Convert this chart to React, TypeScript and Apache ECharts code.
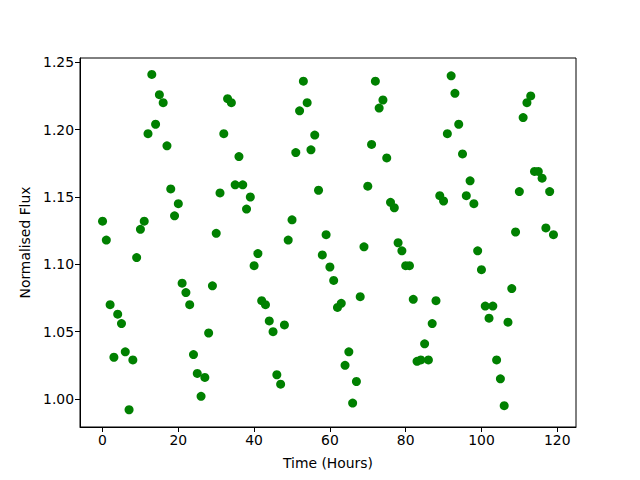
import React, { useEffect, useRef } from "react";
import * as echarts from "echarts";

const hours: number[] = Array.from({ length: 120 }, (_, i) => i);

const flux: number[] = [
  1.132, 1.118, 1.070, 1.031, 1.063, 1.056, 1.035, 0.992, 1.029, 1.105,
  1.126, 1.132, 1.197, 1.241, 1.204, 1.226, 1.220, 1.188, 1.156, 1.136,
  1.145, 1.086, 1.079, 1.070, 1.033, 1.019, 1.002, 1.016, 1.049, 1.084,
  1.123, 1.153, 1.197, 1.223, 1.220, 1.159, 1.180, 1.159, 1.141, 1.150,
  1.099, 1.108, 1.073, 1.070, 1.058, 1.050, 1.018, 1.011, 1.055, 1.118,
  1.133, 1.183, 1.214, 1.236, 1.220, 1.185, 1.196, 1.155, 1.107, 1.122,
  1.098, 1.088, 1.068, 1.071, 1.025, 1.035, 0.997, 1.013, 1.076, 1.113,
  1.158, 1.189, 1.236, 1.216, 1.222, 1.179, 1.146, 1.142, 1.116, 1.110,
  1.099, 1.099, 1.074, 1.028, 1.029, 1.041, 1.029, 1.056, 1.073, 1.151,
  1.147, 1.197, 1.240, 1.227, 1.204, 1.182, 1.151, 1.162, 1.145, 1.110,
  1.096, 1.069, 1.060, 1.069, 1.029, 1.015, 0.995, 1.057, 1.082, 1.124,
  1.154, 1.209, 1.220, 1.225, 1.169, 1.169, 1.164, 1.127, 1.154, 1.122,
];

const xTicks: number[] = [0, 20, 40, 60, 80, 100, 120];
const yTicks: number[] = [1.0, 1.05, 1.1, 1.15, 1.2, 1.25];

export default function App() {
  const ref = useRef<HTMLDivElement>(null);
  useEffect(() => {
    if (!ref.current) return;
    const chart = echarts.init(ref.current, null, { renderer: "svg" });
    const font = "DejaVu Sans";
    chart.setOption({
      animation: false,
      backgroundColor: "#ffffff",
      grid: {
        left: 80,
        right: 64,
        top: 58,
        bottom: 53,
        show: true,
        borderColor: "#000000",
        borderWidth: 1,
        backgroundColor: "transparent",
      },
      xAxis: {
        type: "value",
        min: -5.95,
        max: 124.95,
        name: "Time (Hours)",
        nameLocation: "middle",
        nameGap: 29,
        nameTextStyle: { fontFamily: font, fontSize: 13.9, color: "#000" },
        splitLine: { show: false },
        axisLine: { show: true, onZero: false, lineStyle: { color: "#000", width: 1 } },
        axisTick: {
          show: true,
          inside: false,
          length: 5,
          customValues: xTicks,
          lineStyle: { color: "#000" },
        },
        axisLabel: {
          customValues: xTicks,
          margin: 6,
          fontFamily: font,
          fontSize: 13.9,
          color: "#000",
          formatter: (v: number) => String(v),
        },
      },
      yAxis: {
        type: "value",
        min: 0.9792,
        max: 1.2532,
        name: "Normalised Flux",
        nameLocation: "middle",
        nameGap: 47,
        nameRotate: 90,
        nameTextStyle: { fontFamily: font, fontSize: 13.9, color: "#000" },
        splitLine: { show: false },
        axisLine: { show: true, onZero: false, lineStyle: { color: "#000", width: 1 } },
        axisTick: {
          show: true,
          inside: false,
          length: 5,
          customValues: yTicks,
          lineStyle: { color: "#000" },
        },
        axisLabel: {
          customValues: yTicks,
          margin: 6,
          fontFamily: font,
          fontSize: 13.9,
          color: "#000",
          formatter: (v: number) => v.toFixed(2),
        },
      },
      series: [
        {
          type: "scatter",
          data: hours.map((h, i) => [h, flux[i]]),
          symbol: "circle",
          symbolSize: 9,
          itemStyle: { color: "#008000", opacity: 1 },
          clip: false,
        },
      ],
    });
    return () => chart.dispose();
  }, []);
  return <div ref={ref} style={{ width: 640, height: 480, position: "absolute", left: 0, top: 0 }} />;
}
